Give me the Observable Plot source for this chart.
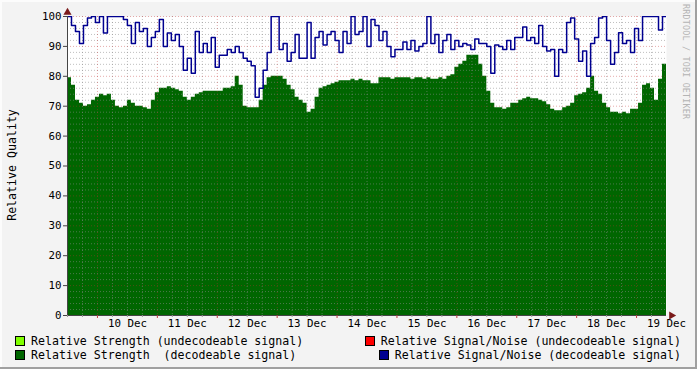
<!DOCTYPE html>
<html><head><meta charset="utf-8">
<script src="https://cdn.jsdelivr.net/npm/d3@7"></script>
<script src="https://cdn.jsdelivr.net/npm/@observablehq/plot@0.6"></script>
<style>
html,body{margin:0;padding:0;background:#f3f3f3;}
#frame{position:relative;width:697px;height:369px;background:#f3f3f3;overflow:hidden;
  box-shadow: inset -2px -2px 0 #a0a0a0, inset 2px 2px 0 #fcfcfc;
  font-family:"DejaVu Sans Mono",monospace;color:#000;}
#chart{position:absolute;left:0;top:0;}
#ylabel{position:absolute;left:12px;top:165px;transform:translate(-50%,-50%) rotate(-90deg);font-size:11.6px;white-space:pre;}
#wm{position:absolute;left:681px;top:4px;writing-mode:vertical-rl;font-size:8.4px;color:#b4b4b4;white-space:pre;letter-spacing:0.2px;}
.lg{position:absolute;font-size:11.6px;white-space:pre;line-height:14px;display:flex;align-items:center;}
.sw{display:inline-block;width:8px;height:8px;border:1px solid #000;margin-right:6px;}
</style>
</head><body>
<div id="frame">
  <div id="chart"></div>
  <div id="ylabel">Relative Quality</div>
  <div id="wm">RRDTOOL / TOBI OETIKER</div>
  <div id="legend"></div>
</div>
<script>
// ---- data (sampled every 96 minutes from Dec 9 12:00) ----
const startISO = "2008-12-09T12:00:00Z";
const endISO = "2008-12-19T12:00:00Z";
const sampleMinutes = 96;

const strengthDecodeable = [
79.5,77,72,71,70,70.5,72,73,74,73.5,
74,72,70,69.5,70,72,71,70,70,69.5,
69,72,74.5,76,76,76.5,76,75.5,75,73,
72,73,74,74.5,75,75,75,75,75,76,
76,76.5,80,77,70,69.5,69.5,69.5,72,77,
79.5,80,80,80,79,77,75.5,73,72,71,
68,69,73,76,76.5,77,77.5,78,78.5,78.5,
78.5,79,78.5,79,78.5,78.5,77.5,77.5,79.5,79.5,
79.5,79,79.5,79.5,79.5,79.5,79,79.5,79.5,79,
79.5,79,79,79.5,79,80,80.5,83,84,85,
87,87,87,84,80,75,71,69.5,69.5,69,
69.5,71,71,72,72.5,73,72.5,72.5,72,71.5,
70.5,69,68.5,68.5,69.5,70,71,73.5,74,74.5,
76,80,75,74,71,69.5,68,68,67.5,68,
67.5,69,69,71,77,77.5,76,72,79,84,
84.5];

const snrDecodeable = [
100,97,95,91,97,99.5,100,98,100,94.5,
100,100,100,100,99,97,91,98,95,96,
90,93,95,99,90,94.5,92,94,90,82,
86,81,95,88,91,88,93,83,87,87,
89,88,90,88,86,85,83.5,73,76,82,
88,100,100,89,91,85,88,94,86,86,
98,86,93,95,90.5,94,95,92,88,95,
91,100,94,95,100,90,99,97,92,95,
90,86.5,89,89,91.5,89,92,88.5,90,91,
100,91,94,88,92,94,89,92,90,91,
90.5,89,92.5,91,91,90,81,90.5,90,89,
92,89,93,93,96.5,92,93,91,97,90,
88.5,89,80,89,88,98,99.5,92.5,85,88.5,
80,91,93,99.5,100,92,84,88,94.6,91,
92,88,96,92,100,100,100,100,95.5,100,
100];

const yTicks = [0,10,20,30,40,50,60,70,80,90,100];
const dayLabelDays = [10,11,12,13,14,15,16,17,18,19];

const legendItems = [
  {label:"Relative Strength (undecodeable signal)", color:"#80ff00", col:"left", row:0},
  {label:"Relative Signal/Noise (undecodeable signal)", color:"#ff0000", col:"right", row:0},
  {label:"Relative Strength  (decodeable signal)", color:"#006600", col:"left", row:1},
  {label:"Relative Signal/Noise (decodeable signal)", color:"#000090", col:"right", row:1}
];

// ---- build ----
const t0 = new Date(startISO), t1 = new Date(endISO);
const toRows = arr => arr.map((v,i)=>({t:new Date(+t0 + i*sampleMinutes*60000), v}));
const strengthRows = toRows(strengthDecodeable);
const snrRows = toRows(snrDecodeable);

const yMinor = d3.range(0,101,2).filter(v=>v%10!==0);
const xAll6h = d3.utcHour.every(6).range(t0, t1);
const xMajor = xAll6h.filter(d=>d.getUTCHours()===0);
const xMinor = xAll6h.filter(d=>d.getUTCHours()!==0);
const noonTicks = dayLabelDays.map(d=>new Date(Date.UTC(2008,11,d,12)));

const minorStroke = "#8a8a8a", majorStroke = "#c03030";

const chart = Plot.plot({
  width: 697, height: 332,
  marginLeft: 67, marginRight: 31, marginTop: 16, marginBottom: 17,
  style: {background:"transparent", fontFamily:"DejaVu Sans Mono, monospace", fontSize:"10.8px", color:"#000"},
  x: {type:"utc", domain:[t0,t1]},
  y: {domain:[0,100]},
  marks: [
    Plot.frame({fill:"white", stroke:null}),
    Plot.areaY(strengthRows, {x:"t", y:"v", fill:"#006600", curve:"step-after", clip:true}),
    Plot.ruleY(yMinor, {stroke:minorStroke, strokeOpacity:0.55, strokeDasharray:"1,2"}),
    Plot.ruleX(xMinor, {stroke:minorStroke, strokeOpacity:0.55, strokeDasharray:"1,2"}),
    Plot.ruleY(yTicks.filter(v=>v>0), {stroke:majorStroke, strokeOpacity:0.4, strokeDasharray:"1,2"}),
    Plot.ruleX(xMajor, {stroke:majorStroke, strokeOpacity:0.4, strokeDasharray:"1,2"}),
    Plot.lineY(snrRows, {x:"t", y:"v", stroke:"#000090", strokeWidth:1.5, curve:"step-after", clip:true}),
    Plot.ruleY([0], {stroke:"#444"}),
    Plot.ruleX([t0], {stroke:"#444"}),
    Plot.axisY({ticks:yTicks, tickSize:4, tickPadding:2, label:null, stroke:"#444"}),
    Plot.axisX({ticks:noonTicks, tickFormat:d3.utcFormat("%d %b"), tickSize:0, tickPadding:4, label:null}),
    Plot.axisX({ticks:xMajor, tickFormat:()=>"", tickSize:3, stroke:"#c04040", label:null}),
    Plot.axisX({ticks:xMinor, tickFormat:()=>"", tickSize:2, stroke:"#999", label:null}),
    Plot.dot([0], {frameAnchor:"top-left", symbol:"triangle", r:3, fill:"#7a1a1a", stroke:null, dy:-4}),
    Plot.dot([0], {frameAnchor:"bottom-right", symbol:"triangle", r:3, fill:"#7a1a1a", stroke:null, dx:5, rotate:90})
  ]
});
document.getElementById("chart").appendChild(chart);

const lg = document.getElementById("legend");
for (const it of legendItems) {
  const d = document.createElement("div");
  d.className = "lg";
  d.style.top = (334 + it.row*14) + "px";
  if (it.col === "left") d.style.left = "15px"; else d.style.right = (697-681) + "px";
  const s = document.createElement("span"); s.className="sw"; s.style.background = it.color;
  d.appendChild(s);
  d.appendChild(document.createTextNode(it.label));
  lg.appendChild(d);
}
</script>
</body></html>
